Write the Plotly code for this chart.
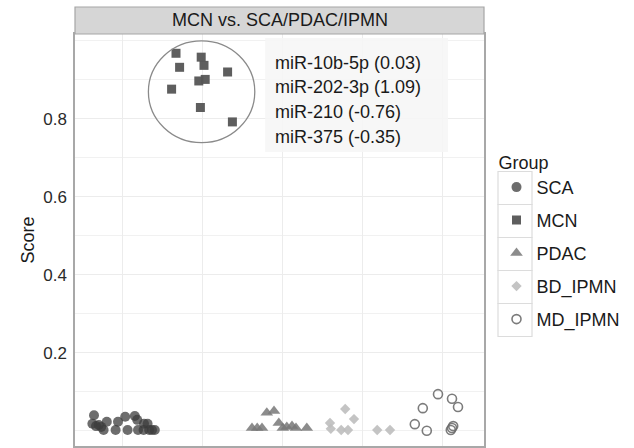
import plotly.graph_objects as go

# ---- data ----
sca_x = [6.5, 6.3, 6.75, 7.1, 7.4, 7.7, 8.1, 9.2, 9.5, 10.4, 10.7, 11.6, 11.9, 12.0, 12.75, 13.2, 12.7, 13.4, 13.75, 14.1]
sca_y = [0.040, 0.018, 0.012, 0.015, 0.010, 0.002, 0.023, 0.002, 0.023, 0.036, 0.002, 0.038, 0.028, 0.002, 0.018, 0.018, 0.002, 0.002, 0.002, 0.002]

mcn_x = [16.75, 19.9, 20.25, 17.2, 23.2, 20.4, 19.6, 16.2, 19.8, 23.8]
mcn_y = [0.968, 0.958, 0.937, 0.932, 0.920, 0.901, 0.897, 0.876, 0.829, 0.792]

pdac_x = [26.25, 26.9, 27.5, 28.1, 29.0, 29.6, 30.1, 30.6, 31.25, 31.75, 33.1]
pdac_y = [0.007, 0.007, 0.007, 0.046, 0.051, 0.020, 0.007, 0.010, 0.012, 0.007, 0.007]

bd_x = [36.0, 36.1, 37.9, 37.4, 38.25, 39.0, 41.9, 43.5]
bd_y = [0.020, 0.005, 0.056, 0.002, 0.002, 0.030, 0.002, 0.002]

md_x = [46.6, 47.6, 48.1, 49.5, 51.25, 52.0, 51.25, 51.4, 51.1]
md_y = [0.017, 0.058, 0.000, 0.094, 0.082, 0.061, 0.007, 0.012, 0.002]

groups = ["SCA", "MCN", "PDAC", "BD_IPMN", "MD_IPMN"]
mirna_labels = ["miR-10b-5p (0.03)", "miR-202-3p (1.09)", "miR-210 (-0.76)", "miR-375 (-0.35)"]
panel_title = "MCN vs. SCA/PDAC/IPMN"
y_ticks = [0.2, 0.4, 0.6, 0.8]
x_grid = [10, 20, 30, 40, 50]

# ---- figure ----
W, H = 634, 448
ML, MR, MT, MB = 75, 150, 34, 2
PW = W - ML - MR
PH = H - MT - MB

def px_x(p):
    return (p - ML) / PW

def px_y(p):
    return (H - MB - p) / PH

FONT = "Liberation Sans, Arial, sans-serif"

fig = go.Figure()
styles = [
    (sca_x, sca_y, dict(symbol="circle", size=10, color="rgba(60,60,60,0.75)", line=dict(width=0))),
    (mcn_x, mcn_y, dict(symbol="square", size=9, color="rgba(85,85,85,0.95)", line=dict(width=0))),
    (pdac_x, pdac_y, dict(symbol="triangle-up", size=11, color="rgba(120,120,120,0.85)", line=dict(width=0))),
    (bd_x, bd_y, dict(symbol="diamond", size=8, color="rgba(190,190,190,0.9)", line=dict(width=0))),
    (md_x, md_y, dict(symbol="circle-open", size=9, color="rgba(110,110,110,0.9)", line=dict(width=1.6))),
]
for name, (xs, ys, mk) in zip(groups, styles):
    fig.add_trace(go.Scatter(x=xs, y=ys, mode="markers", name=name, legendgroup=name,
                             marker=mk, showlegend=True))

shapes = []
# ellipse around MCN
shapes.append(dict(type="circle", xref="x", yref="y", x0=13.3, x1=26.6, y0=0.739, y1=1.000,
                   line=dict(color="#8a8a8a", width=1.3), layer="above"))
# label box
shapes.append(dict(type="rect", xref="x", yref="y", x0=27.9, x1=50.75, y0=0.715, y1=1.007,
                   fillcolor="rgba(246,246,246,0.9)", line=dict(width=0), layer="between"))
# strip
shapes.append(dict(type="rect", xref="paper", yref="paper", x0=0, x1=1, y0=1, y1=px_y(7),
                   fillcolor="#d6d6d6", line=dict(color="#a6a6a6", width=1.2), layer="above"))
# legend key boxes
for k in range(5):
    top = 171.5 + 33 * k
    shapes.append(dict(type="rect", xref="paper", yref="paper", x0=px_x(498), x1=px_x(532),
                       y0=px_y(top + 33), y1=px_y(top), line=dict(color="#dcdcdc", width=1.2),
                       fillcolor="rgba(0,0,0,0)", layer="below"))

annotations = [dict(text=panel_title, xref="paper", yref="paper", x=0.5, y=px_y(20.5),
                    showarrow=False, font=dict(size=18, color="#1a1a1a", family=FONT),
                    xanchor="center", yanchor="middle")]
for lab, yy in zip(mirna_labels, [0.942, 0.882, 0.818, 0.754]):
    annotations.append(dict(text=lab, xref="x", yref="y", x=28.9, y=yy, showarrow=False,
                            xanchor="left", yanchor="middle",
                            font=dict(size=18, color="#1a1a1a", family=FONT)))

grid = "#ececec"
fig.update_layout(
    width=W, height=H,
    margin=dict(l=ML, r=MR, t=MT, b=MB, pad=0),
    paper_bgcolor="white", plot_bgcolor="white",
    font=dict(family=FONT, size=18, color="#1a1a1a"),
    shapes=shapes, annotations=annotations,
    legend=dict(
        x=px_x(496.5), xanchor="left", y=px_y(145.5), yanchor="top",
        title=dict(text="Group", font=dict(size=18)),
        font=dict(size=18, color="#1a1a1a"),
        tracegroupgap=6.6, bgcolor="rgba(0,0,0,0)", borderwidth=0,
        traceorder="grouped",
    ),
    xaxis=dict(range=[4.125, 55.25], tickvals=x_grid, showticklabels=False,
               showgrid=True, gridcolor=grid, gridwidth=1, zeroline=False,
               showline=True, linecolor="#a8a8a8", linewidth=1.5, mirror=True, ticks=""),
    yaxis=dict(range=[-0.039, 1.0174], tickvals=y_ticks, ticktext=[f"{v:.1f}" for v in y_ticks],
               tickfont=dict(size=17, color="#2a2a2a"), ticklabelstandoff=3,
               showgrid=True, gridcolor=grid, gridwidth=1, zeroline=False,
               minor=dict(tickvals=[0.0, 0.1, 0.3, 0.5, 0.7, 0.9, 1.0], showgrid=True,
                          gridcolor="#f1f1f1", gridwidth=1, ticks=""),
               showline=True, linecolor="#a8a8a8", linewidth=1.5, mirror=True, ticks="",
               title=dict(text="Score", font=dict(size=18, color="#1a1a1a"), standoff=4)),
)

fig.write_html("out.html")
